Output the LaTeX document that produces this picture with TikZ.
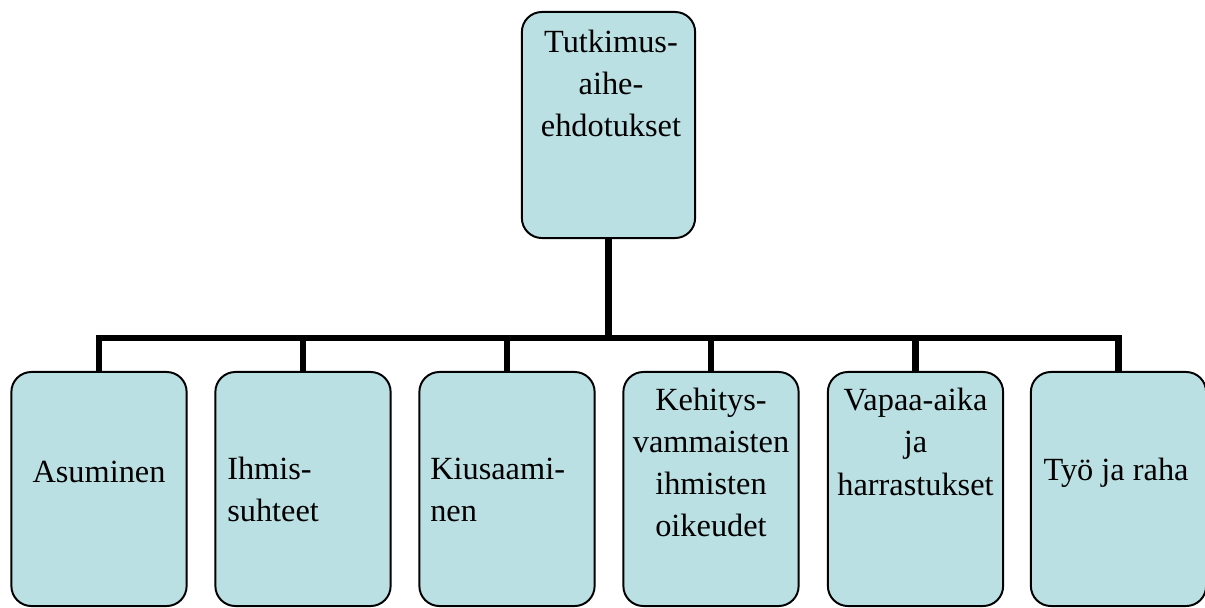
\documentclass[tikz,border=0pt]{standalone}
\usepackage{fontspec}
\setmainfont{Liberation Serif}
\definecolor{boxfill}{RGB}{187,224,227}

\begin{document}
\begin{tikzpicture}[x=0.025cm,y=-0.025cm,
  topic/.style={draw=black,line width=1.4pt,fill=boxfill,rounded corners=0.5cm,
    minimum width=4.38cm,minimum height=5.85cm,inner sep=0pt},
  lbl/.style={align=center,inner sep=0pt,font=\fontsize{23}{30}\selectfont,anchor=base},
  lblleft/.style={lbl,align=left,anchor=base west},
  conn/.style={line width=4.3pt}]
  \useasboundingbox (0,0) rectangle (1205,607);

  % main topic
  \node[topic,minimum width=4.33cm,minimum height=5.65cm] (top) at (608.5,125) {};
  \node[lbl] (toptxt) at (611,136.7) {Tutkimus-\\aihe-\\ehdotukset};

  % sub topics
  \node[topic] (asu) at (99,489) {};
  \node[topic] (ihm) at (303,489) {};
  \node[topic] (kiu) at (507,489) {};
  \node[topic] (keh) at (711,489) {};
  \node[topic] (vap) at (915.5,489) {};
  \node[topic] (tyo) at (1118.5,489) {};

  % labels (base = last line)
  \node[lbl] (asutxt) at (99,482) {Asuminen};
  \node[lblleft] (ihmtxt) at (227,521.7) {Ihmis-\\suhteet};
  \node[lblleft] (kiutxt) at (430,521.7) {Kiusaami-\\nen};
  \node[lbl] (kehtxt) at (711,536.7) {Kehitys-\\vammaisten\\ihmisten\\oikeudet};
  \node[lbl] (vaptxt) at (915.5,495) {Vapaa-aika\\ja\\harrastukset};
  \node[lbl] (tyotxt) at (1116,480) {Työ ja raha};

  % connectors
  \coordinate (bus) at (top.south |- 0,338);
  \draw[conn] (top.south) -- (bus);
  \draw[conn] (bus) -| (asu.north);
  \draw[conn] (bus) -| (ihm.north);
  \draw[conn] (bus) -| (kiu.north);
  \draw[conn] (bus) -| (keh.north);
  \draw[conn] (bus) -| (vap.north);
  \draw[conn] (bus) -| (tyo.north);
\end{tikzpicture}
\end{document}
